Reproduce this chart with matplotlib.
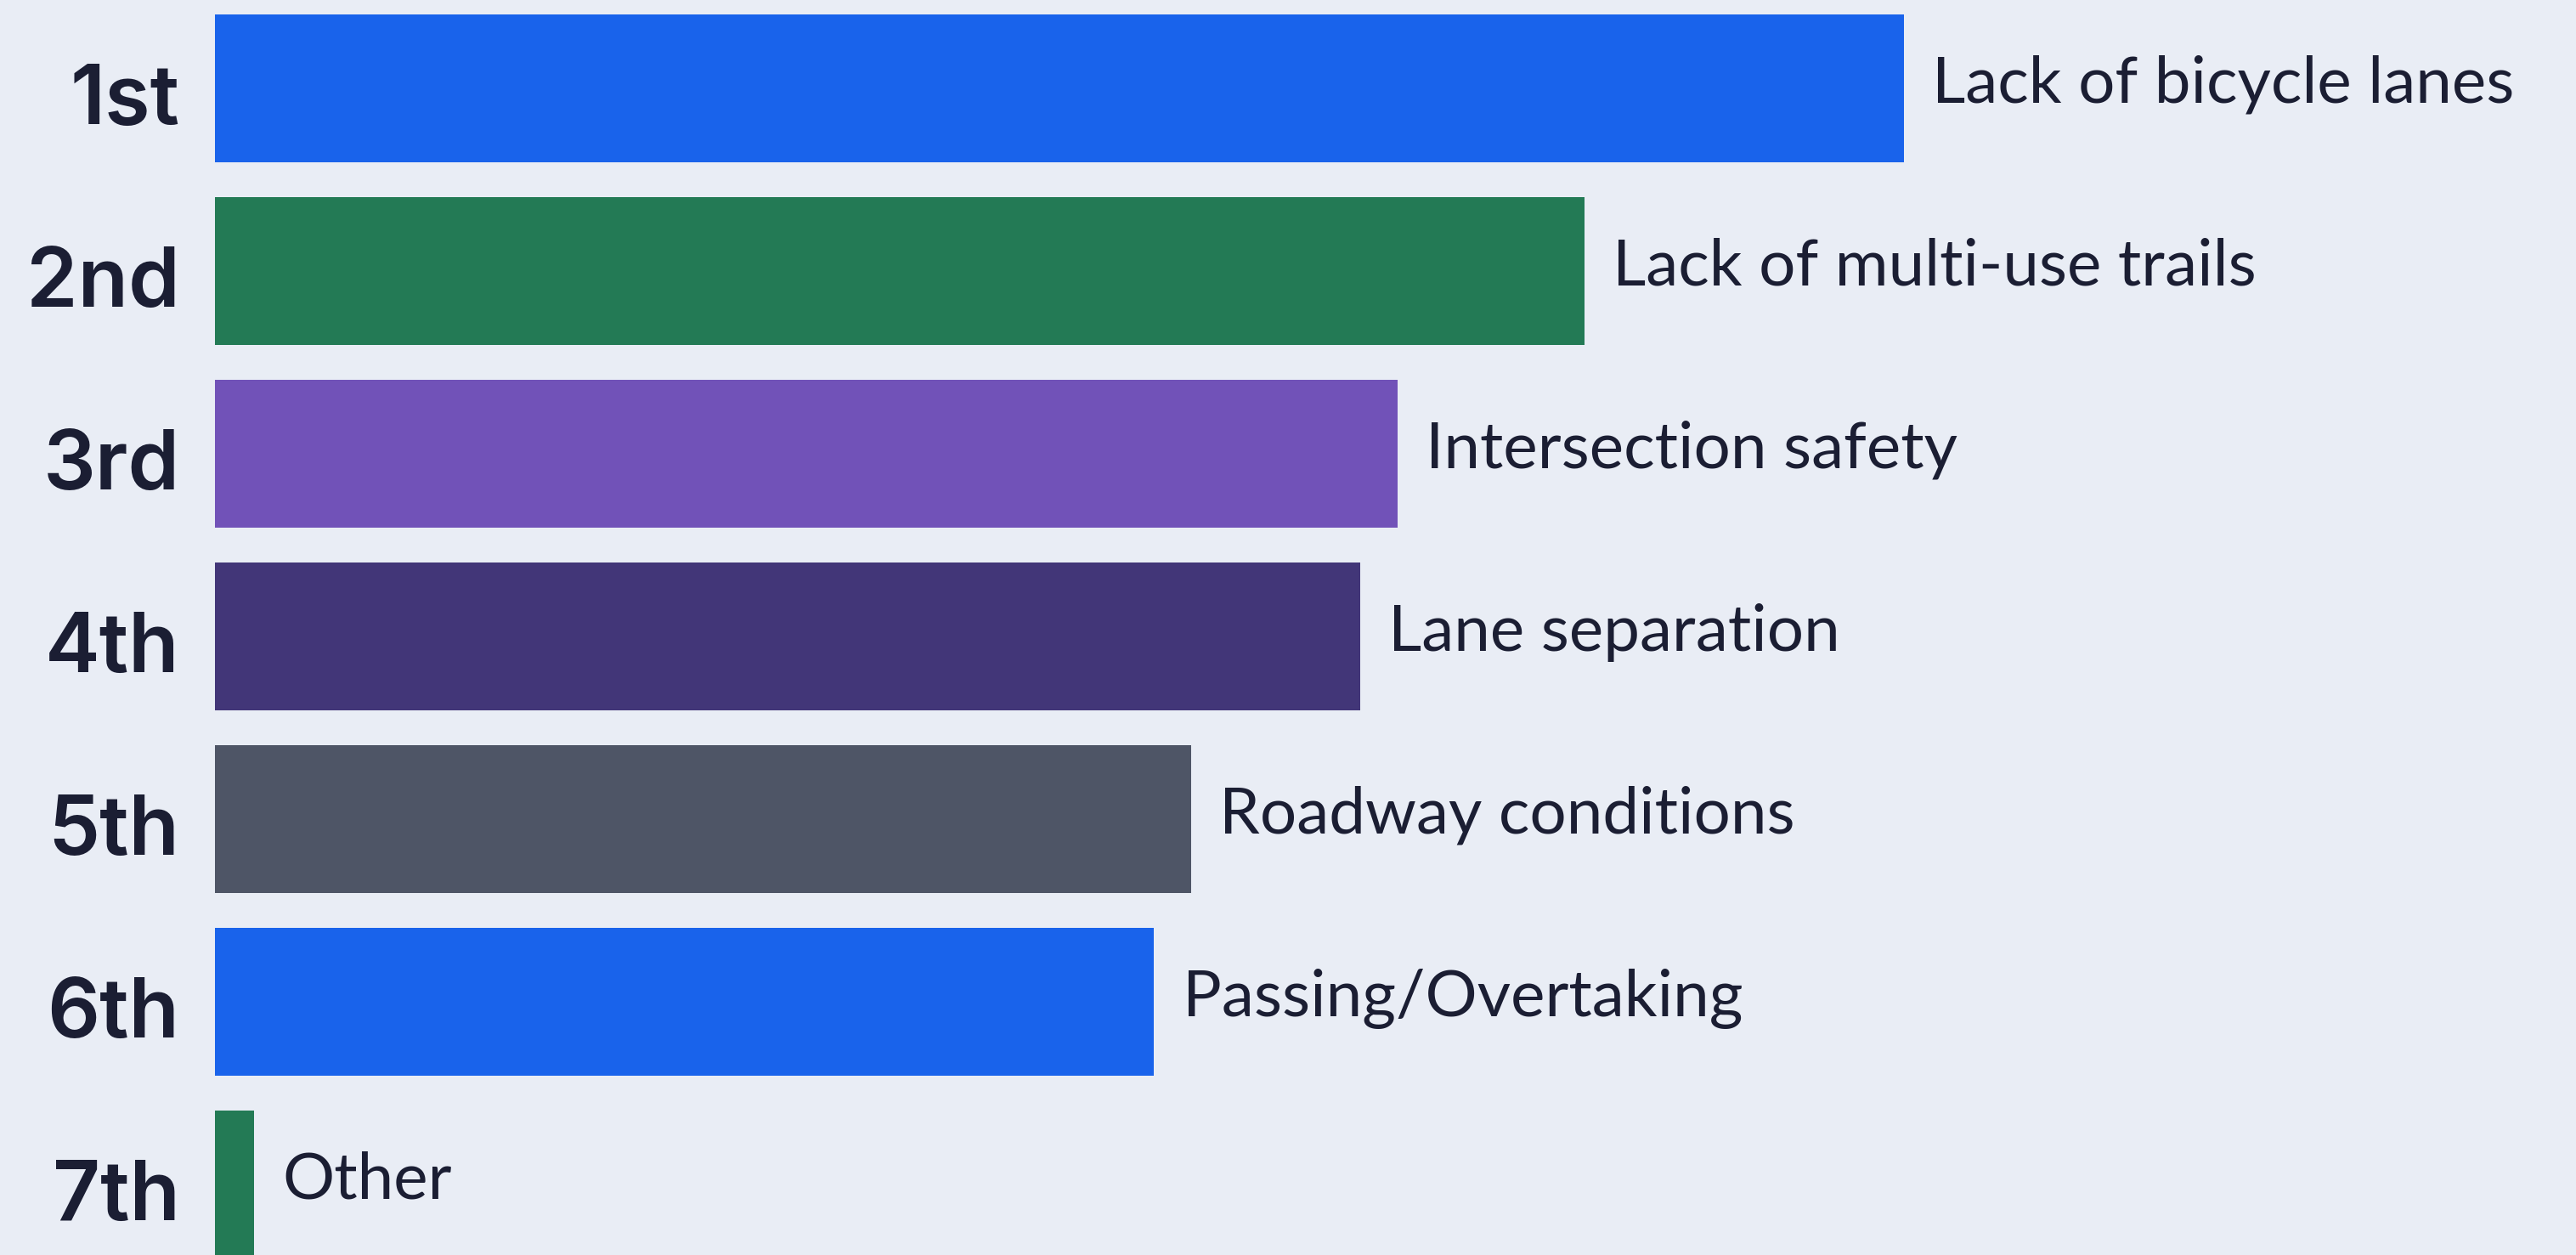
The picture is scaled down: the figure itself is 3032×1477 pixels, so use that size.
import matplotlib.pyplot as plt

# data (relative score, 1st = 100)
ranks = ["1st", "2nd", "3rd", "4th", "5th", "6th", "7th"]
issues = [
    "Lack of bicycle lanes",
    "Lack of multi-use trails",
    "Intersection safety",
    "Lane separation",
    "Roadway conditions",
    "Passing/Overtaking",
    "Other",
]
scores = [100, 81.1, 70.0, 67.8, 57.8, 55.6, 2.3]
colors = ["#1963eb", "#237a55", "#7152b8", "#423678", "#4e5566", "#1963eb", "#237a55"]

bg = "#e9edf5"
ink = "#1b1e33"

fig = plt.figure(figsize=(30.32, 14.77), dpi=100, facecolor=bg)
ax = fig.add_axes([0, 0, 1, 1])
ax.set_facecolor(bg)

ypos = list(range(len(ranks)))
ax.barh(ypos, scores, height=0.81, color=colors)

for y, rank, issue, val in zip(ypos, ranks, issues, scores):
    ax.annotate(rank, xy=(0, y), xytext=(-30, -30), textcoords="offset points",
                ha="right", va="baseline", fontsize=70, fontweight="semibold",
                family=["Inter", "DejaVu Sans"], color=ink)
    ax.annotate(issue, xy=(val, y), xytext=(24, -12), textcoords="offset points",
                ha="left", va="baseline", fontsize=55,
                family=["Lato", "DejaVu Sans"], color=ink)

ax.set_xlim(-12.73, 139.8)
ax.set_ylim(6.386, -0.484)
ax.axis("off")

plt.savefig("out.png", dpi=100, facecolor=bg)
plt.close()
